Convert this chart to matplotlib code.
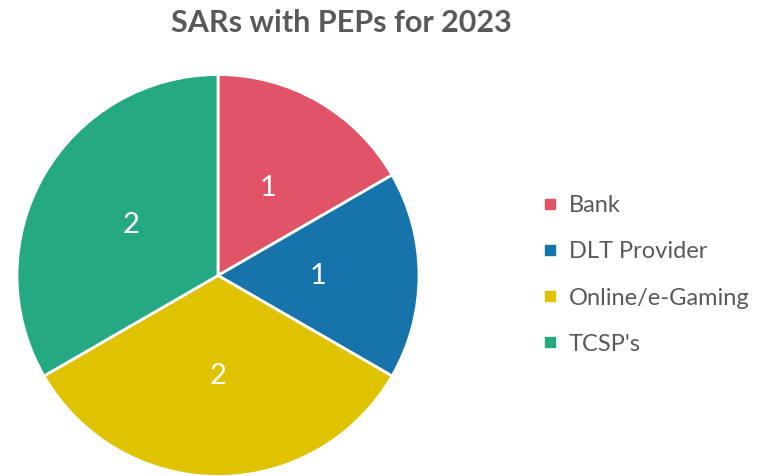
import matplotlib.pyplot as plt
from matplotlib.lines import Line2D

categories = ["Bank", "DLT Provider", "Online/e-Gaming", "TCSP's"]
values = [1, 1, 2, 2]
colors = ["#E15467", "#1774AA", "#E0C300", "#25A982"]

plt.rcParams['font.family'] = ['Lato', 'DejaVu Sans']

fig = plt.figure(figsize=(7.58, 4.76), dpi=100)
ax = fig.add_axes([16 / 758, -1.5 / 476, 404 / 758, 404 / 476])

wedges, texts = ax.pie(values, colors=colors, startangle=90, counterclock=False,
                       labels=[str(v) for v in values], labeldistance=0.5,
                       wedgeprops=dict(edgecolor="white", linewidth=2),
                       textprops=dict(color="white", fontsize=21))
for t in texts:
    t.set_horizontalalignment("center")
    t.set_verticalalignment("center")
ax.set_xlim(-1.005, 1.005)
ax.set_ylim(-1.005, 1.005)
ax.set_aspect("equal")

fig.text(341 / 758, 1 - 23 / 476, "SARs with PEPs for 2023", ha="center", va="center",
         fontsize=22, fontweight="bold", color="#595959")

handles = [Line2D([], [], marker="s", linestyle="", markersize=7, color=c) for c in colors]
leg = fig.legend(handles, categories, loc="center left", bbox_to_anchor=(517 / 758, 1 - 275 / 476),
                 frameon=False, fontsize=17, labelspacing=1.06, handletextpad=0.3,
                 handlelength=1.0, labelcolor="#595959")

fig.savefig("out.png", dpi=100)
